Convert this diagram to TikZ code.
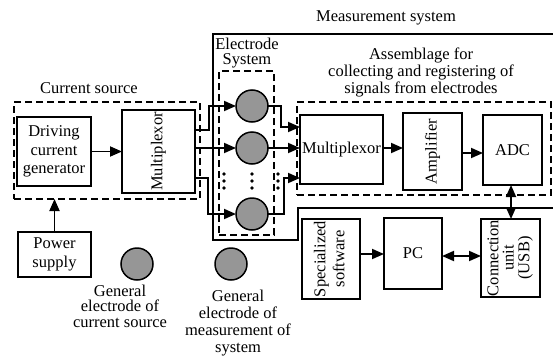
\documentclass[tikz,border=0pt]{standalone}
\usepackage{fontspec}
\usepackage{graphicx}
\setmainfont{Liberation Serif}
\usetikzlibrary{arrows.meta}
\definecolor{elgray}{RGB}{150,150,150}
\newcommand\rotstack[2]{\rotatebox{90}{\fontsize{16.5}{#1}\selectfont\begin{tabular}{@{}c@{}}#2\end{tabular}}}
\begin{document}
\begin{tikzpicture}[x=1pt,y=-1pt,
  every node/.style={font=\fontsize{16.5}{17}\selectfont, inner sep=0pt, outer sep=0pt},
  box/.style={draw, line width=2pt, align=center},
  dbox/.style={draw, line width=2pt, dash pattern=on 7pt off 4pt},
  elec/.style={circle, draw, line width=1.5pt, fill=elgray, minimum size=32pt},
  arr/.style={line width=1.8pt, -{Triangle[length=12pt,width=10pt]}},
  dbl/.style={line width=1.8pt, {Triangle[length=12pt,width=10pt]}-{Triangle[length=12pt,width=10pt]}},
  ln/.style={line width=2pt},
  dotc/.style={circle, fill, minimum size=3.6pt}
]
\useasboundingbox (0,0) rectangle (553,356);

% measurement system outline
\draw[ln] (553,34) -- (213,34) -- (213,240) -- (298,240) -- (298,208) -- (553,208);

% dashed groups
\node[dbox, minimum width=186pt, minimum height=97pt] (cs) at (107,150.5) {};
\node[dbox, minimum width=55pt, minimum height=164pt] (es) at (246.5,153) {};
\node[dbox, minimum width=254pt, minimum height=93pt] (as) at (424,148.5) {};

% labels
\node (msl) at (386,18) {Measurement system};
\node (csl) at (89,88) {Current source};
\node[align=center, font=\fontsize{16.5}{15}\selectfont] (esl) at (247,53) {Electrode\\System};
\node[align=center, font=\fontsize{16.5}{17}\selectfont] (asl) at (421,72) {Assemblage for\\collecting and registering of\\signals from electrodes};

% boxes
\node[box, minimum width=74pt, minimum height=69pt, font=\fontsize{16.5}{18.5}\selectfont] (gen) at (54,151.5) {Driving\\current\\generator};
\node[box, minimum width=73pt, minimum height=83pt] (mux1) at (158.5,151.5) {\rotatebox{90}{Multiplexor}};
\node[box, minimum width=73pt, minimum height=45pt, font=\fontsize{16.5}{19}\selectfont] (power) at (54.5,254.5) {Power\\supply};
\node[box, minimum width=83pt, minimum height=69pt] (mux2) at (341.5,149.5) {Multiplexor};
\node[box, minimum width=59pt, minimum height=77pt] (amp) at (432.5,151.5) {\rotatebox{90}{Amplifier}};
\node[box, minimum width=59pt, minimum height=70pt] (adc) at (512.5,150) {ADC};
\node[box, minimum width=58pt, minimum height=80pt] (soft) at (331,259) {\rotstack{19}{Specialized\\software}};
\node[box, minimum width=58pt, minimum height=71pt] (pc) at (413,253.5) {PC};
\node[box, minimum width=59pt, minimum height=78pt] (conn) at (510.5,258) {\rotstack{14.5}{Connection\\unit\\(USB)}};

% electrodes
\node[elec] (e1) at (252,106) {};
\node[elec] (e2) at (252,148) {};
\node[elec] (e3) at (252,214) {};
\node[elec] (g1) at (137,264) {};
\node[elec] (g2) at (231,264) {};

% dots
\foreach \yy [count=\i] in {174,181,188} {
  \node[dotc] (dl\i) at (224,\yy) {};
  \node[dotc] (dm\i) at (252,\yy) {};
  \node[dotc] (dr\i) at (278,\yy) {};
}

\node[align=center, font=\fontsize{16.5}{15.5}\selectfont] (g1l) at (120,306) {General\\electrode of\\current source};
\node[align=center, font=\fontsize{16.5}{16.7}\selectfont] (g2l) at (238,323) {General\\electrode of\\measurement of\\system};

% connectors
\draw[arr] (gen) -- (mux1);
\draw[arr] (power) -- (power |- cs.south);
\draw[arr] (mux1.east |- 0,130) -- (209,130) -- (209,106) -- (e1);
\draw[arr] (mux1.east |- e2) -- (e2);
\draw[arr] (mux1.east |- 0,178) -- (208,178) -- (208,214) -- (e3);
\draw[arr] (e1) -- (281,106) -- (281,127) -- (mux2.west |- 0,127);
\draw[arr] (e2) -- (e2 -| mux2.west);
\draw[arr] (e3) -- (284,214) -- (284,178) -- (mux2.west |- 0,178);
\draw[arr] (mux2.east |- 0,148) -- (amp.west |- 0,148);
\draw[arr] (amp.east |- 0,153) -- (adc.west |- 0,153);
\draw[dbl] (adc.south -| 511,0) -- (conn.north -| 511,0);
\draw[arr] (soft.east |- 0,254) -- (pc.west |- 0,254);
\draw[dbl] (pc.east |- 0,256) -- (conn.west |- 0,256);
\end{tikzpicture}
\end{document}
